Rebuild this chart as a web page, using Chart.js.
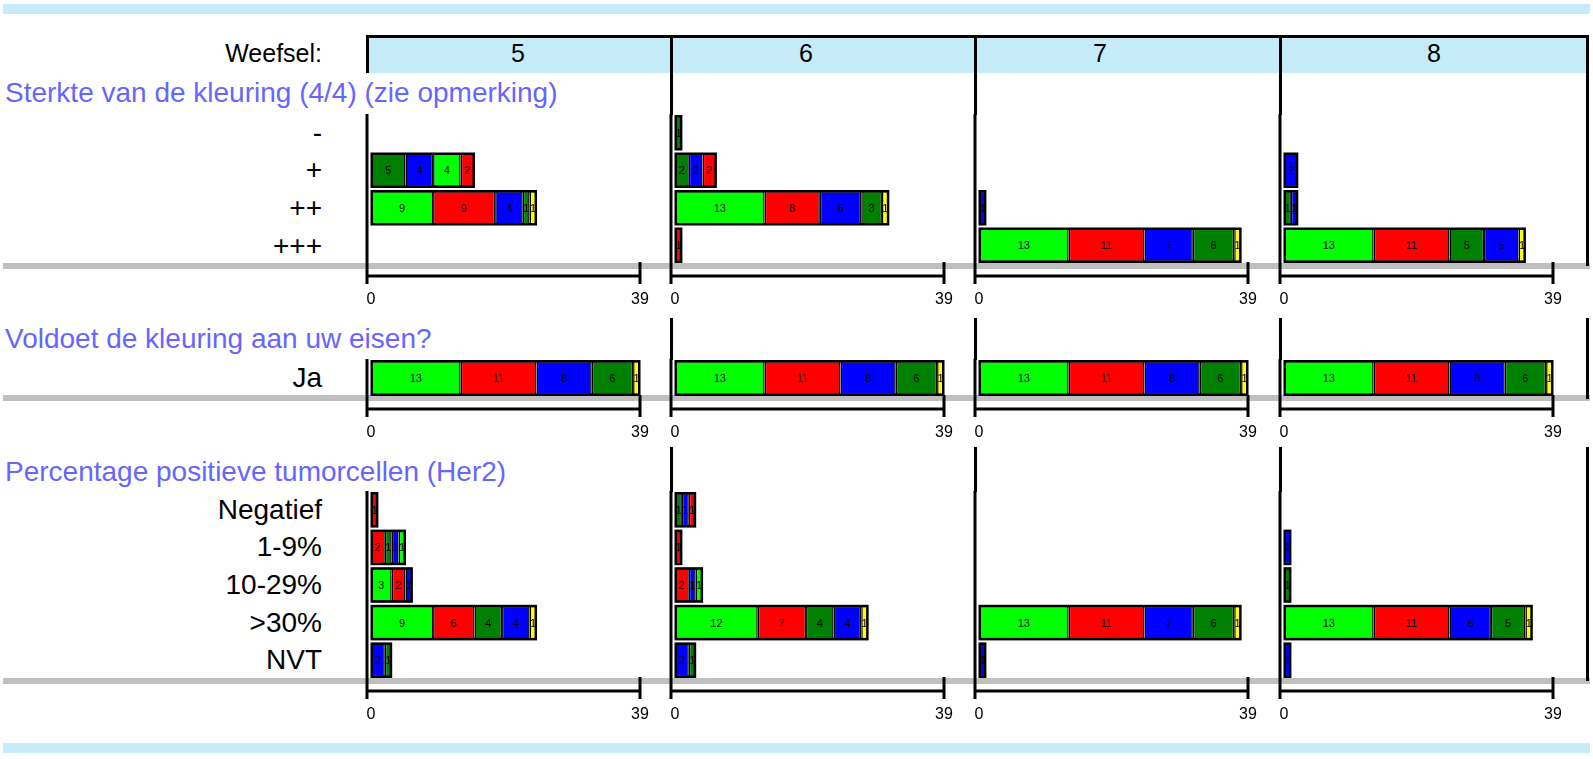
<!DOCTYPE html>
<html>
<head>
<meta charset="utf-8">
<script src="https://cdn.jsdelivr.net/npm/chart.js@4.4.0/dist/chart.umd.min.js"></script>
<style>
  body { margin: 0; width: 1593px; height: 759px; background: #fff; position: relative; overflow: hidden;
         font-family: "Liberation Sans", Arial, sans-serif; }
  .abs { position: absolute; }
  .band { background: #c6ecfa; }
  .gray { background: #c0c0c0; }
  .vline { background: #000; width: 3px; }
  .title { color: #6666ff; font-size: 28px; white-space: nowrap; line-height: 30px; }
  .cat { font-size: 28px; text-align: right; width: 300px; line-height: 30px; white-space: nowrap; }
  .head { font-size: 25px; line-height: 30px; text-align: center; width: 60px; }
  canvas { position: absolute; }
</style>
</head>
<body>
<script>
const tissues = ['5', '6', '7', '8'];
const sterkteCats = ['-', '+', '++', '+++'];
const eisenCats = ['Ja'];
const percCats = ['Negatief', '1-9%', '10-29%', '>30%', 'NVT'];

// one row per tissue (5, 6, 7, 8), one value per category
const sterkteDarkGreen = [[0, 5, 1, 0], [1, 2, 3, 0], [0, 0, 0, 6], [0, 0, 1, 5]];
const sterkteBlue      = [[0, 4, 4, 0], [0, 2, 6, 0], [0, 0, 1, 7], [0, 2, 1, 5]];
const sterkteGreen     = [[0, 4, 9, 0], [0, 0, 13, 0], [0, 0, 0, 13], [0, 0, 0, 13]];
const sterkteRed       = [[0, 2, 9, 0], [0, 2, 8, 1], [0, 0, 0, 11], [0, 0, 0, 11]];
const sterkteYellow    = [[0, 0, 1, 0], [0, 0, 1, 0], [0, 0, 0, 1], [0, 0, 0, 1]];

const eisenDarkGreen = [[6], [6], [6], [6]];
const eisenBlue      = [[8], [8], [8], [8]];
const eisenGreen     = [[13], [13], [13], [13]];
const eisenRed       = [[11], [11], [11], [11]];
const eisenYellow    = [[1], [1], [1], [1]];

const percDarkGreen = [[0, 1, 0, 4, 1], [1, 0, 0, 4, 1], [0, 0, 0, 6, 0], [0, 0, 1, 5, 0]];
const percBlue      = [[0, 1, 1, 4, 2], [1, 0, 1, 4, 2], [0, 0, 0, 7, 1], [0, 1, 0, 6, 1]];
const percGreen     = [[0, 1, 3, 9, 0], [0, 0, 1, 12, 0], [0, 0, 0, 13, 0], [0, 0, 0, 13, 0]];
const percRed       = [[1, 2, 2, 6, 0], [1, 1, 2, 7, 0], [0, 0, 0, 11, 0], [0, 0, 0, 11, 0]];
const percYellow    = [[0, 0, 0, 1, 0], [0, 0, 0, 1, 0], [0, 0, 0, 1, 0], [0, 0, 0, 1, 0]];

const maxX = 39;
const seriesColors = ['#008000', '#0000ff', '#00ff00', '#ff0000', '#ffff00'];

const sections = [
  { title: 'Sterkte van de kleuring (4/4) (zie opmerking)', titleY: 93, top: 35, catTop: 114,
    cats: sterkteCats, series: [sterkteDarkGreen, sterkteBlue, sterkteGreen, sterkteRed, sterkteYellow] },
  { title: 'Voldoet de kleuring aan uw eisen?', titleY: 339, top: 318, catTop: 359,
    cats: eisenCats, series: [eisenDarkGreen, eisenBlue, eisenGreen, eisenRed, eisenYellow] },
  { title: 'Percentage positieve tumorcellen (Her2)', titleY: 472, top: 447, catTop: 491,
    cats: percCats, series: [percDarkGreen, percBlue, percGreen, percRed, percYellow] },
];

const rowH = 37.6;
const axisX = [367, 671, 975, 1280];
const rightEdge = 1587;
const FONT = '"Liberation Sans", Arial, sans-serif';

function box(cls, l, t, w, h, text) {
  const d = document.createElement('div');
  d.className = 'abs ' + cls;
  d.style.left = l + 'px'; d.style.top = t + 'px';
  if (w != null) d.style.width = w + 'px';
  if (h != null) d.style.height = h + 'px';
  if (text != null) d.textContent = text;
  document.body.appendChild(d);
  return d;
}

// bands and header
box('band', 3, 4, 1587, 10);
box('band', 3, 743, 1587, 10);
const hdr = box('band', 366, 35, 1223, 35);
hdr.style.borderTop = '3px solid #000';
box('vline', 365.5, 35, null, 38);
box('cat', 22, 38, null, null, 'Weefsel:').style.fontSize = '25px';
[518, 806, 1100, 1434].forEach((cx, i) => box('head', cx - 30, 38, null, null, tissues[i]));

// segments of one bar sorted large to small, ties in series order
function rankDatasets(series, t, nCats) {
  const ranks = series.map(() => ({ data: [], backgroundColor: [] }));
  for (let c = 0; c < nCats; c++) {
    const segs = series.map((s, i) => ({ v: s[t][c], col: seriesColors[i], i }))
      .filter(s => s.v > 0)
      .sort((a, b) => b.v - a.v || a.i - b.i);
    ranks.forEach((r, k) => {
      r.data.push(segs[k] ? segs[k].v : null);
      r.backgroundColor.push(segs[k] ? segs[k].col : 'transparent');
    });
  }
  return ranks.map(r => ({
    ...r,
    borderColor: '#000',
    borderWidth: { top: 2, bottom: 2, left: 1.5, right: 1.5 },
    borderSkipped: false,
    barPercentage: 0.92,
    categoryPercentage: 1,
  }));
}

// value labels plus a heavier outline round each whole bar
const segmentLabels = {
  id: 'segmentLabels',
  afterDatasetsDraw(chart) {
    const ctx = chart.ctx;
    ctx.save();
    const outline = {};
    chart.data.datasets.forEach((ds, i) => {
      chart.getDatasetMeta(i).data.forEach((bar, j) => {
        if (ds.data[j] == null) return;
        const o = outline[j] || (outline[j] = { l: bar.base, r: bar.x, y: bar.y, h: bar.height });
        o.l = Math.min(o.l, bar.base, bar.x);
        o.r = Math.max(o.r, bar.base, bar.x);
      });
    });
    ctx.strokeStyle = '#000';
    ctx.lineWidth = 2.5;
    Object.values(outline).forEach(o => {
      ctx.strokeRect(o.l + 0.75, o.y - o.h / 2 + 0.75, o.r - o.l - 1.5, o.h - 1.5);
    });

    ctx.font = '11px ' + FONT;
    ctx.fillStyle = '#000';
    ctx.textAlign = 'center';
    ctx.textBaseline = 'middle';
    chart.data.datasets.forEach((ds, i) => {
      chart.getDatasetMeta(i).data.forEach((bar, j) => {
        const v = ds.data[j];
        if (v == null) return;
        ctx.fillText(String(v), (bar.x + bar.base) / 2, bar.y + 1);
      });
    });
    ctx.restore();
  }
};

// axis line below the bars, end tick and the 0 / 39 tick labels
const axisFrame = {
  id: 'axisFrame',
  beforeDatasetsDraw(chart) {
    const { ctx, chartArea: a, scales: { x } } = chart;
    const x0 = x.getPixelForValue(0) - 4;
    const x1 = x.getPixelForValue(maxX);
    ctx.save();
    ctx.strokeStyle = '#000';
    ctx.lineWidth = 3;
    ctx.beginPath();
    ctx.moveTo(x0, a.top); ctx.lineTo(x0, a.bottom + 20);
    ctx.moveTo(x0, a.bottom + 12); ctx.lineTo(x1 + 1.5, a.bottom + 12);
    ctx.moveTo(x1, a.bottom - 2); ctx.lineTo(x1, a.bottom + 20);
    ctx.stroke();

    ctx.fillStyle = '#000';
    ctx.font = '16px ' + FONT;
    ctx.textAlign = 'center';
    ctx.textBaseline = 'middle';
    x.ticks.forEach(tk => {
      ctx.fillText(String(tk.value), x.getPixelForValue(tk.value), a.bottom + 36);
    });
    ctx.restore();
  }
};

sections.forEach(sec => {
  const catH = rowH * sec.cats.length;
  const catBottom = sec.catTop + catH;

  box('title', 5, sec.titleY - 15, null, null, sec.title);
  sec.cats.forEach((c, k) => box('cat', 22, sec.catTop + rowH * (k + 0.5) - 15, null, null, c));
  box('gray', 3, catBottom - 1.5, 1587, 6);

  // column separators above the plot areas and right edge
  [1, 2, 3].forEach(i => box('vline', axisX[i] - 1.5, sec.top, null, sec.catTop - sec.top + 1));
  box('vline', rightEdge - 1.5, sec.top, null, catBottom + 2 - sec.top);

  tissues.forEach((t, ti) => {
    const cv = document.createElement('canvas');
    cv.width = 301;
    cv.height = Math.round(catH) + 50;
    cv.style.left = (axisX[ti] + 4 - 12) + 'px';
    cv.style.top = sec.catTop + 'px';
    document.body.appendChild(cv);

    new Chart(cv.getContext('2d'), {
      type: 'bar',
      data: {
        labels: sec.cats,
        datasets: rankDatasets(sec.series, ti, sec.cats.length),
      },
      options: {
        indexAxis: 'y',
        responsive: false,
        animation: false,
        layout: { padding: { left: 12, right: 20, top: 0, bottom: 0 } },
        plugins: { legend: { display: false }, tooltip: { enabled: false } },
        scales: {
          x: {
            stacked: true,
            min: 0,
            max: maxX,
            grid: { display: false, drawTicks: false },
            border: { display: false },
            afterBuildTicks: s => { s.ticks = [{ value: 0 }, { value: maxX }]; },
            afterFit: s => { s.height = cv.height - Math.round(catH); },
            ticks: { display: false, padding: 0, maxRotation: 0, autoSkip: false },
          },
          y: { stacked: true, display: false },
        },
      },
      plugins: [axisFrame, segmentLabels],
    });
  });
});
</script>
</body>
</html>
